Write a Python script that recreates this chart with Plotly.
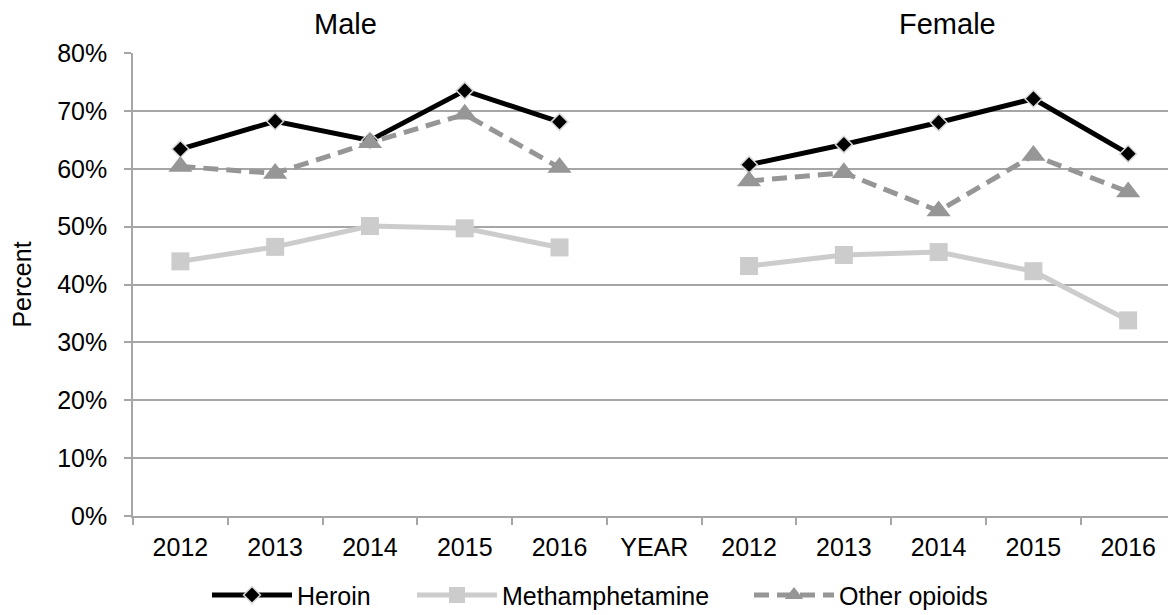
import plotly.graph_objects as go

years = ["2012", "2013", "2014", "2015", "2016"]
gap_label = "YEAR"
heroin_male = [0.634, 0.682, 0.649, 0.735, 0.681]
heroin_female = [0.607, 0.642, 0.680, 0.721, 0.626]
meth_male = [0.440, 0.465, 0.501, 0.497, 0.464]
meth_female = [0.432, 0.451, 0.456, 0.423, 0.338]
other_male = [0.604, 0.592, 0.645, 0.694, 0.602]
other_female = [0.579, 0.593, 0.527, 0.623, 0.560]
series_names = ["Heroin", "Methamphetamine", "Other opioids"]
panel_titles = ["Male", "Female"]

labels = years + [gap_label] + years
xs = list(range(len(labels)))

def join(a, b):
    return list(a) + [None] + list(b)

FONT = "Arial, Liberation Sans, sans-serif"

fig = go.Figure()
fig.add_trace(go.Scatter(
    x=xs, y=join(heroin_male, heroin_female), name=series_names[0],
    mode="lines+markers", connectgaps=False, legend="legend",
    line=dict(color="#000000", width=5),
    marker=dict(symbol="diamond", size=13, color="#000000",
                line=dict(color="#d9d9d9", width=1.5)),
))
fig.add_trace(go.Scatter(
    x=xs, y=join(meth_male, meth_female), name=series_names[1],
    mode="lines+markers", connectgaps=False, legend="legend2",
    line=dict(color="#cccccc", width=5),
    marker=dict(symbol="square", size=18, color="#cccccc"),
))
fig.add_trace(go.Scatter(
    x=xs, y=join(other_male, other_female), name=series_names[2],
    mode="lines+markers", connectgaps=False, legend="legend3",
    line=dict(color="#969696", width=5, dash="15px,8px"),
    marker=dict(symbol="triangle-up", size=21, color="#969696"),
))

def leg(xpx):
    return dict(orientation="h", x=(xpx - 133) / 1035, xanchor="left",
                y=-0.171, yanchor="middle", font=dict(size=25), itemwidth=80,
                bgcolor="rgba(0,0,0,0)")

fig.update_layout(
    width=1168, height=615,
    margin=dict(l=133, r=0, t=53, b=99, autoexpand=False),
    paper_bgcolor="white", plot_bgcolor="white",
    font=dict(family=FONT, size=25, color="#000000"),
    showlegend=True,
    legend=leg(207), legend2=leg(412), legend3=leg(749),
    annotations=[
        dict(text=panel_titles[0], x=0.205, y=1.062, xref="paper", yref="paper",
             showarrow=False, font=dict(size=29), xanchor="center", yanchor="middle"),
        dict(text=panel_titles[1], x=0.787, y=1.062, xref="paper", yref="paper",
             showarrow=False, font=dict(size=29), xanchor="center", yanchor="middle"),
    ],
)
fig.update_xaxes(
    range=[-0.5, 10.42], tickvals=xs, ticktext=labels, ticks="", showgrid=False,
    showline=True, linecolor="#a6a6a6", linewidth=1.5, zeroline=False,
    tickfont=dict(size=25), ticklabelstandoff=8,
    minor=dict(tickvals=[i - 0.5 for i in range(len(labels) + 1)], ticks="outside",
               ticklen=7, tickcolor="#a6a6a6", tickwidth=1.5, showgrid=False),
)
fig.update_yaxes(
    range=[0, 0.8], dtick=0.1, tickformat=".0%", showgrid=True,
    gridcolor="#a6a6a6", gridwidth=1.5, showline=True, linecolor="#a6a6a6",
    linewidth=1.5, ticks="outside", ticklen=7, tickcolor="#a6a6a6", tickwidth=1.5,
    zeroline=False, tickfont=dict(size=25), ticklabelstandoff=12,
    title=dict(text="Percent", font=dict(size=25), standoff=18),
)

fig.write_html("out.html", config={"displayModeBar": False},
               post_script="document.body.style.margin='0';document.body.style.overflow='hidden';")
